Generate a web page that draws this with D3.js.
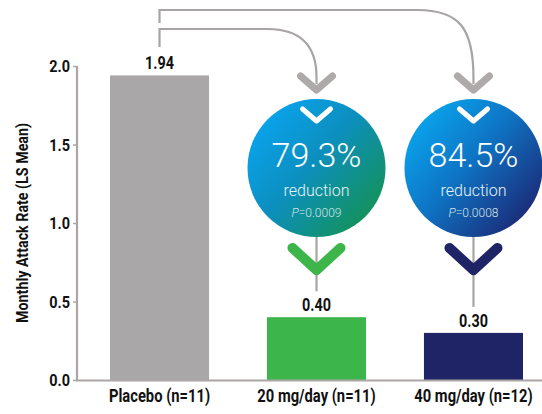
<!DOCTYPE html>
<html>
<head>
<meta charset="utf-8">
<script src="https://cdn.jsdelivr.net/npm/d3@7"></script>
<style>
  html, body { margin: 0; padding: 0; background: #fff; }
  svg { display: block; }
</style>
</head>
<body>
<svg id="chart" width="542" height="414"></svg>
<script>
// Monthly attack rate by treatment arm
const categories = ["Placebo (n=11)", "20 mg/day (n=11)", "40 mg/day (n=12)"];
const values = [1.94, 0.40, 0.30];
const valueLabels = ["1.94", "0.40", "0.30"];
const yTicks = [0.0, 0.5, 1.0, 1.5, 2.0];
const reductions = ["79.3%", "84.5%"];
const pValues = ["0.0009", "0.0008"];

const barColors = ["#aaa7a9", "#3cb54a", "#1e2465"];
const gradEnd = ["#14925a", "#1b2b78"];

const svg = d3.select("#chart");
const W = 542, H = 414;

const y = d3.scaleLinear().domain([0, 2]).range([380, 66]);
const x = d3.scaleBand().domain(categories).range([110, 523]).paddingInner(0.369).paddingOuter(0);

const font = "Roboto, 'Liberation Sans', sans-serif";
const SQ = 0.82; // horizontal squeeze for the condensed bold labels

// condensed bold text helper
function boldText(parent, tx, ty, str, size, anchor, squeeze, rotate) {
  const g = parent.append("g")
    .attr("transform", `translate(${tx},${ty})` + (rotate ? ` rotate(${rotate})` : "") + ` scale(${squeeze},1)`);
  g.append("text")
    .attr("text-anchor", anchor)
    .attr("font-family", font).attr("font-weight", "bold").attr("font-size", size)
    .attr("fill", "#111")
    .text(str);
  return g;
}

// gradients for the reduction badges
const defs = svg.append("defs");
gradEnd.forEach((c, i) => {
  const g = defs.append("linearGradient").attr("id", "badge" + i)
    .attr("x1", "0.1").attr("y1", "0.15").attr("x2", "0.9").attr("y2", "0.85");
  g.append("stop").attr("offset", "0").attr("stop-color", "#0aa3ec");
  g.append("stop").attr("offset", "0.45").attr("stop-color", i === 0 ? "#0c8fbf" : "#0e74c4");
  g.append("stop").attr("offset", "1").attr("stop-color", c);
});

// bars
svg.append("g").selectAll("rect").data(values).join("rect")
  .attr("x", (d, i) => x(categories[i]))
  .attr("y", d => y(d))
  .attr("width", x.bandwidth())
  .attr("height", d => y(0) - y(d))
  .attr("fill", (d, i) => barColors[i]);

// y axis
const yAxis = d3.axisLeft(y).tickValues(yTicks).tickFormat("").tickSize(4);
const gy = svg.append("g").attr("transform", "translate(77,0)").call(yAxis);
gy.select(".domain").attr("stroke", "#aba5a5").attr("stroke-width", 2.2)
  .attr("d", `M0,${y(2)}V${y(0)}`);
gy.selectAll(".tick line").attr("stroke", "#aba5a5").attr("stroke-width", 1.5);
const fmt = d3.format(".1f");
yTicks.forEach(t => boldText(svg, 70, y(t) + 6, fmt(t), 17, "end", 0.85));

// x axis baseline
svg.append("line").attr("x1", 76).attr("x2", W).attr("y1", y(0) + 0.5).attr("y2", y(0) + 0.5)
  .attr("stroke", "#aba5a5").attr("stroke-width", 2.2);

const cx = i => x(categories[i]) + x.bandwidth() / 2;

// category labels
categories.forEach((c, i) => boldText(svg, cx(i), 402, c, 18, "middle", SQ));

// y axis title
boldText(svg, 28, (y(0) + y(2)) / 2, "Monthly Attack Rate (LS Mean)", 17, "middle", 0.84, -90);

// connectors from placebo to each treatment badge
const connector = svg.append("g").attr("fill", "none").attr("stroke", "#a8a4a4").attr("stroke-width", 2.2);
[[29, 47, 267], [10, 23, 417]].forEach(([ly, startY, bendX], k) => {
  const tx = cx(k + 1);
  const p = d3.path();
  p.moveTo(cx(0), startY);
  p.lineTo(cx(0), ly);
  p.lineTo(bendX, ly);
  p.bezierCurveTo(tx - 14, ly, tx, ly + 18, tx, k === 0 ? ly + 48 : ly + 68);
  p.lineTo(tx, 84);
  connector.append("path").attr("d", p.toString());
});

// chevron helper
const chevron = (g, xc, tipY, half, depth, color, width) =>
  g.append("path")
    .attr("d", `M${xc - half},${tipY - depth}L${xc},${tipY}L${xc + half},${tipY - depth}`)
    .attr("fill", "none").attr("stroke", color).attr("stroke-width", width)
    .attr("stroke-linecap", "round").attr("stroke-linejoin", "round");

const badges = svg.append("g");
[1, 2].forEach((i, k) => {
  const xc = cx(i);
  const cy = 168, r = 69;
  chevron(badges, xc, 90, 16, 14, "#aeaaaa", 7);

  // guide from badge down to bar label
  badges.append("line").attr("x1", xc).attr("x2", xc)
    .attr("y1", cy + r - 4).attr("y2", y(values[i]) - 26)
    .attr("stroke", "#a8a4a4").attr("stroke-width", 2.2);

  badges.append("circle").attr("cx", xc).attr("cy", cy).attr("r", r)
    .attr("fill", `url(#badge${k})`);

  chevron(badges, xc, 121, 14, 12, "#ffffff", 5);

  badges.append("text").attr("x", xc).attr("y", 167).attr("text-anchor", "middle")
    .attr("font-family", font).attr("font-weight", 300).attr("font-size", 34)
    .attr("fill", "#fff").text(reductions[k]);
  badges.append("text").attr("x", xc).attr("y", 196).attr("text-anchor", "middle")
    .attr("font-family", font).attr("font-weight", 300).attr("font-size", 16)
    .attr("fill", "#e8f4f2").text("reduction");
  const pt = badges.append("text").attr("x", xc).attr("y", 217).attr("text-anchor", "middle")
    .attr("font-family", font).attr("font-weight", 300).attr("font-size", 12)
    .attr("fill", "#d0e4e6");
  pt.append("tspan").attr("font-style", "italic").text("P");
  pt.append("tspan").text("=" + pValues[k]);

  // coloured chevron under each badge, matching its bar
  chevron(badges, xc, 270, 24, 22, barColors[i], 10);
});

// value labels above bars
values.forEach((v, i) => boldText(svg, cx(i), y(v) - 6, valueLabels[i], 18, "middle", 0.8));
</script>
</body>
</html>
